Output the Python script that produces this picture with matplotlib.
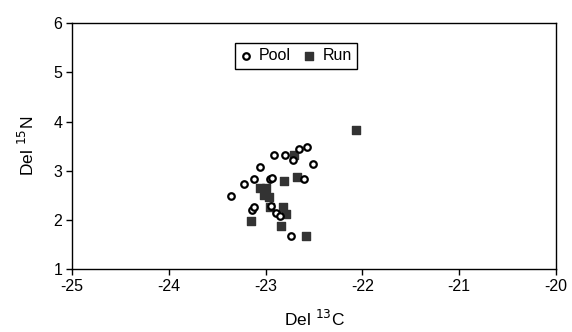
import matplotlib.pyplot as plt

plt.rcParams['font.family'] = ['Liberation Sans', 'DejaVu Sans']
plt.rcParams['axes.unicode_minus'] = False

# Pool samples (del 13C, del 15N)
pool_c = [-23.36, -23.22, -23.12, -23.06, -22.95, -22.93, -22.91, -22.80, -22.72,
          -22.66, -22.57, -22.51, -22.60, -23.14, -23.12, -22.94, -22.89, -22.85, -22.74]
pool_n = [2.49, 2.73, 2.83, 3.07, 2.83, 2.86, 3.31, 3.31, 3.22,
          3.44, 3.48, 3.14, 2.83, 2.20, 2.25, 2.29, 2.14, 2.07, 1.66]

# Run samples
run_c = [-22.07, -22.71, -22.68, -22.81, -23.06, -23.00, -23.02, -22.97,
         -22.96, -22.82, -22.79, -23.15, -22.84, -22.58]
run_n = [3.83, 3.31, 2.88, 2.79, 2.64, 2.64, 2.50, 2.47,
         2.25, 2.25, 2.12, 1.97, 1.88, 1.67]

x_ticks = [-25, -24, -23, -22, -21, -20]
y_ticks = [1, 2, 3, 4, 5, 6]

fig = plt.figure(figsize=(5.72, 3.32), dpi=100)
ax = fig.add_axes([0.126, 0.19, 0.846, 0.74])

ax.scatter(pool_c, pool_n, marker='o', s=22, facecolors='white',
           edgecolors='black', linewidths=1.6, label='Pool', zorder=3)
ax.scatter(run_c, run_n, marker='s', s=36, color='#333333',
           label='Run', zorder=2)

ax.set_xlim(-25, -20)
ax.set_ylim(1, 6)
ax.set_xticks(x_ticks)
ax.set_yticks(y_ticks)
ax.tick_params(direction='out', length=4, width=1, labelsize=11.5, pad=3)
for sp in ax.spines.values():
    sp.set_linewidth(1)

ax.set_xlabel('Del $^{13}$C', fontsize=12.5, labelpad=11)
ax.set_ylabel('Del $^{15}$N', fontsize=12.5, labelpad=12)

leg = ax.legend(loc='upper left', bbox_to_anchor=(0.337, 0.92), ncol=2,
                fancybox=False, framealpha=1, edgecolor='black',
                fontsize=11.5, handlelength=0.6, handletextpad=0.5,
                columnspacing=0.9, borderpad=0.35, borderaxespad=0)
leg.get_frame().set_linewidth(1)

fig.savefig('out.png', dpi=100)
